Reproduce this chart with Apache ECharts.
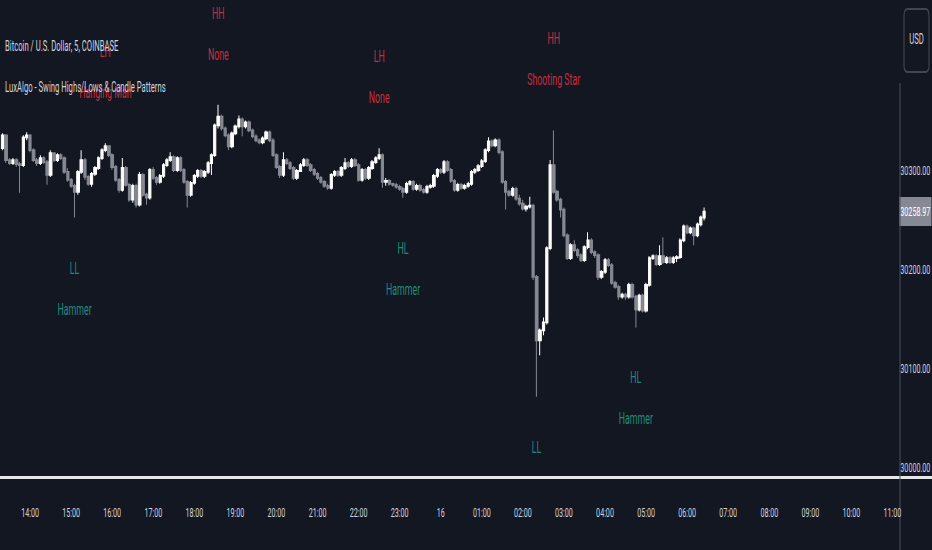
<!DOCTYPE html>
<html><head><meta charset="utf-8">
<script src="https://cdn.jsdelivr.net/npm/echarts@6/dist/echarts.min.js"></script>
<style>
html,body{margin:0;padding:0;background:#131722;overflow:hidden;width:932px;height:550px}
#c{width:1695px;height:550px;transform:scaleX(0.549853);transform-origin:0 0}
</style>
</head><body><div id="c"></div>
<script>
// ---- data (5-minute candles) ----
const firstBarTime = '13:20';
const barMinutes = 5;
const slotCount = 262;
const hourTicks = ['14:00','15:00','16:00','17:00','18:00','19:00','20:00','21:00','22:00','23:00','00:00',
  '01:00','02:00','03:00','04:00','05:00','06:00','07:00','08:00','09:00','10:00','11:00'];
const dayLabel = '16';
const priceTicks = [30000, 30100, 30200, 30300];
const lastPrice = 30258.97;

const opens = [
30323,30336,30311,30308,30311,30307,30306,30334,30336,30321,
30311,30308,30313,30309,30296,30318,30311,30316,30313,30299,
30291,30285,30279,30299,30311,30294,30287,30297,30303,30313,
30321,30325,30316,30304,30291,30281,30303,30286,30271,30285,
30266,30296,30276,30273,30301,30293,30289,30295,30306,30311,
30314,30301,30313,30301,30289,30276,30288,30295,30300,30295,
30299,30308,30316,30346,30355,30343,30336,30325,30338,30345,
30352,30345,30349,30341,30335,30331,30329,30333,30339,30331,
30316,30304,30296,30311,30308,30303,30293,30300,30306,30311,
30306,30301,30297,30293,30289,30285,30283,30296,30299,30296,
30303,30308,30305,30311,30306,30291,30301,30293,30303,30309,
30313,30316,30289,30290,30287,30286,30284,30282,30279,30287,
30289,30282,30285,30281,30279,30284,30285,30295,30301,30299,
30309,30301,30290,30281,30286,30283,30285,30287,30299,30301,
30305,30310,30321,30330,30326,30331,30319,30289,30279,30276,
30282,30272,30267,30262,30264,30265,30193,30129,30139,30147,
30222,30306,30279,30271,30261,30235,30212,30225,30220,30215,
30210,30223,30230,30218,30215,30193,30198,30210,30205,30187,
30183,30173,30175,30173,30185,30173,30160,30174,30159,30185,
30212,30214,30206,30214,30208,30212,30208,30212,30213,30230,
30244,30238,30242,30235,30246,30253];
const closes = [
30336,30311,30308,30311,30307,30306,30334,30336,30321,30311,
30308,30313,30309,30296,30318,30311,30316,30313,30299,30291,
30285,30279,30299,30311,30294,30287,30297,30303,30313,30321,
30325,30316,30304,30291,30281,30303,30286,30271,30285,30266,
30296,30276,30273,30301,30293,30289,30295,30306,30311,30314,
30301,30313,30301,30289,30276,30288,30295,30300,30295,30299,
30308,30316,30346,30355,30343,30336,30325,30338,30345,30352,
30345,30349,30341,30335,30331,30329,30333,30339,30331,30316,
30304,30296,30311,30308,30303,30293,30300,30306,30311,30306,
30301,30297,30293,30289,30285,30283,30296,30299,30296,30303,
30308,30305,30311,30306,30291,30301,30293,30303,30309,30313,
30316,30289,30290,30287,30286,30284,30282,30279,30287,30289,
30282,30285,30281,30279,30284,30285,30295,30301,30299,30309,
30301,30290,30281,30286,30283,30285,30287,30299,30301,30305,
30310,30321,30330,30326,30331,30319,30289,30279,30276,30282,
30272,30267,30262,30264,30265,30193,30129,30139,30147,30222,
30306,30279,30271,30261,30235,30212,30225,30220,30215,30210,
30223,30230,30218,30215,30193,30198,30210,30205,30187,30183,
30173,30175,30173,30185,30173,30160,30174,30159,30185,30212,
30214,30206,30214,30208,30212,30208,30212,30213,30230,30244,
30238,30242,30235,30246,30253,30258.97];
const highs = [
30338,30337,30313,30313,30313,30309,30336,30339,30337,30323,
30313,30316,30315,30311,30321,30319,30318,30318,30315,30303,
30293,30287,30301,30321,30313,30296,30299,30305,30315,30323,
30328,30326,30318,30306,30293,30313,30305,30288,30287,30287,
30299,30298,30278,30303,30304,30295,30297,30308,30313,30319,
30316,30315,30315,30303,30291,30290,30297,30302,30302,30301,
30310,30318,30348,30367,30357,30345,30338,30340,30347,30356,
30354,30351,30351,30343,30337,30333,30335,30341,30341,30333,
30318,30306,30319,30313,30310,30305,30302,30308,30313,30313,
30308,30303,30299,30295,30291,30287,30298,30301,30301,30305,
30313,30310,30313,30313,30308,30303,30303,30305,30311,30315,
30323,30318,30293,30292,30288,30288,30286,30284,30289,30291,
30291,30287,30287,30283,30286,30287,30297,30303,30303,30311,
30311,30303,30292,30288,30288,30287,30289,30301,30303,30307,
30312,30323,30334,30332,30333,30333,30321,30291,30281,30284,
30284,30276,30271,30266,30274,30267,30195,30141,30152,30224,
30311,30341,30281,30273,30263,30237,30227,30230,30222,30217,
30225,30238,30232,30220,30217,30200,30212,30212,30207,30189,
30185,30177,30177,30187,30187,30175,30176,30176,30187,30214,
30216,30216,30225,30233,30214,30214,30214,30215,30232,30246,
30246,30244,30244,30248,30255,30263];
const lows = [
30321,30308,30306,30306,30304,30278,30304,30331,30319,30309,
30305,30306,30307,30286,30294,30309,30309,30311,30297,30289,
30283,30253,30276,30297,30291,30285,30284,30295,30301,30311,
30319,30314,30301,30289,30278,30279,30284,30269,30268,30263,
30264,30274,30266,30271,30291,30286,30287,30293,30304,30309,
30299,30299,30299,30287,30263,30274,30286,30293,30293,30293,
30297,30296,30314,30343,30341,30334,30321,30323,30336,30343,
30335,30343,30339,30333,30329,30327,30327,30331,30329,30314,
30302,30293,30294,30306,30301,30291,30291,30299,30304,30304,
30299,30295,30291,30287,30283,30281,30281,30294,30294,30294,
30301,30303,30303,30304,30289,30289,30291,30291,30301,30307,
30311,30283,30285,30285,30284,30282,30280,30273,30277,30285,
30280,30280,30279,30277,30277,30282,30283,30293,30297,30297,
30299,30288,30279,30279,30281,30281,30283,30285,30297,30299,
30303,30308,30319,30324,30324,30317,30287,30261,30274,30274,
30270,30265,30260,30259,30262,30190,30072,30114,30134,30145,
30220,30277,30269,30253,30233,30210,30210,30218,30212,30208,
30208,30221,30216,30212,30190,30191,30196,30203,30185,30181,
30170,30171,30170,30171,30171,30142,30158,30157,30157,30183,
30210,30204,30204,30206,30206,30206,30206,30208,30211,30228,
30236,30236,30225,30233,30244,30250];

// swing pivots (bar index, price, tag, pattern, side)
const pivotBars     = [21, 30, 63, 110, 117, 156, 161, 185];
const pivotPrices   = [30253, 30328, 30367, 30323, 30273, 30072, 30341, 30142];
const pivotTags     = ['LL','LH','HH','LH','HL','LL','HH','HL'];
const pivotPatterns = ['Hammer','Hanging Man','None','None','Hammer','Hammer','Shooting Star','Hammer'];
const pivotSides    = ['low','high','high','high','low','low','high','low'];

// ---- build ----
const K = 1695 / 932;           // wide-canvas units per screen pixel
const FONT = 'Roboto, sans-serif';
const pad = n => (n < 10 ? '0' : '') + n;
const [h0, m0] = firstBarTime.split(':').map(Number);
const categories = [];
for (let i = 0; i < slotCount; i++) {
  const t = (h0 * 60 + m0 + i * barMinutes) % 1440;
  categories.push(pad(Math.floor(t / 60)) + ':' + pad(t % 60));
}
const candles = opens.map((o, i) => [o, closes[i], lows[i], highs[i]]);
const RED = '#f23645', TEAL = '#22ab94';
const pivotData = pivotBars.map((b, i) => {
  const up = pivotSides[i] === 'high';
  return {
    value: [b, pivotPrices[i]],
    label: {
      show: true,
      position: up ? 'top' : 'bottom',
      distance: 30,
      formatter: pivotTags[i] + '\n' + pivotPatterns[i],
      color: up ? RED : TEAL,
      fontSize: 16,
      lineHeight: 41,
      fontFamily: FONT,
      align: 'center'
    }
  };
});

const BG = '#131722';
const sepX = 900 * K;
const chart = echarts.init(document.getElementById('c'), null, { renderer: 'svg' });
chart.setOption({
  backgroundColor: BG,
  animation: false,
  grid: { left: 1 * K, right: 1695 - sepX, top: 0, bottom: 73 },
  xAxis: {
    type: 'category', data: categories, boundaryGap: true, z: 10,
    axisLine: { show: false }, axisTick: { show: false }, splitLine: { show: false },
    axisLabel: {
      interval: (idx, val) => hourTicks.indexOf(val) >= 0,
      formatter: v => (v === '00:00' ? dayLabel : v),
      color: '#d1d4dc', fontSize: 13, margin: 29, fontFamily: FONT
    }
  },
  yAxis: {
    type: 'value', position: 'right', min: 29990.9, max: 30472.7, scale: true,
    axisLine: { show: false }, axisTick: { show: false }, splitLine: { show: false },
    axisLabel: {
      customValues: priceTicks, formatter: v => v.toFixed(2),
      color: '#d1d4dc', fontSize: 13, margin: 5, fontFamily: FONT
    }
  },
  series: [
    {
      type: 'candlestick', data: candles, barWidth: '78%',
      itemStyle: { color: '#ffffff', color0: '#868993', borderColor: '#ffffff', borderColor0: '#868993', borderWidth: 1.8 },
      markLine: {
        silent: true, symbol: ['none', 'none'],
        lineStyle: { width: 0, color: 'rgba(0,0,0,0)', type: 'solid' },
        label: {
          show: true, position: 'end', distance: 3, formatter: lastPrice.toFixed(2),
          backgroundColor: '#868993', color: '#ffffff', fontSize: 13,
          padding: [8, 2], lineHeight: 13, height: 13, fontFamily: FONT
        },
        data: [{ yAxis: lastPrice }]
      }
    },
    {
      type: 'scatter', data: pivotData, symbolSize: 0, z: 3, silent: true
    }
  ],
  graphic: [
    { type: 'rect', z: 5, shape: { x: 0, y: 479, width: 1695, height: 71 }, style: { fill: BG } },
    { type: 'rect', z: 5, shape: { x: sepX, y: 0, width: 1695 - sepX, height: 83 }, style: { fill: BG } },
    { type: 'line', z: 6, shape: { x1: 0, y1: 477.5, x2: 1695, y2: 477.5 }, style: { stroke: '#e6e7ea', lineWidth: 3 } },
    { type: 'line', z: 6, shape: { x1: sepX, y1: 83, x2: sepX, y2: 550 }, style: { stroke: '#4a4e59', lineWidth: 1.8 } },
    { type: 'rect', z: 6, shape: { x: 904 * K, y: 9, width: 25 * K, height: 63, r: 6 }, style: { fill: 'none', stroke: '#434651', lineWidth: 2 } },
    { type: 'text', z: 6, x: 916.5 * K, y: 40, style: { text: 'USD', fill: '#d1d4dc', font: '14px ' + FONT, align: 'center', verticalAlign: 'middle' } },
    { type: 'text', z: 6, x: 5 * K, y: 47, style: { text: 'Bitcoin / U.S. Dollar, 5, COINBASE', fill: '#d1d4dc', font: '14px ' + FONT, verticalAlign: 'middle' } },
    { type: 'text', z: 6, x: 5 * K, y: 88, style: { text: 'LuxAlgo - Swing Highs/Lows & Candle Patterns', fill: '#d1d4dc', font: '14px ' + FONT, verticalAlign: 'middle' } }
  ]
});
</script></body></html>
